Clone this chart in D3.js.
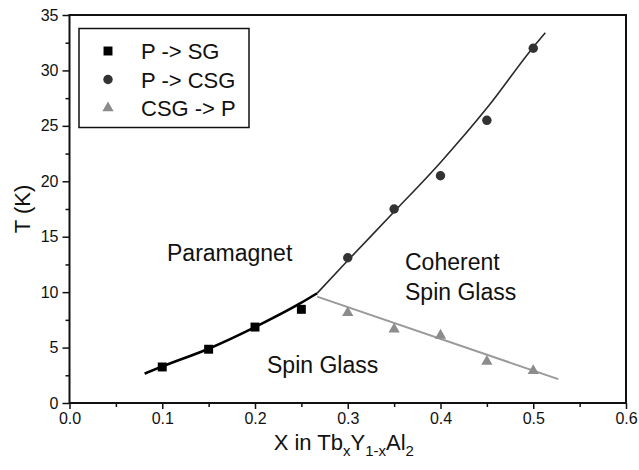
<!DOCTYPE html>
<html><head><meta charset="utf-8">
<script src="https://cdn.jsdelivr.net/npm/d3@7"></script>
<style>
html,body{margin:0;padding:0;background:#fff;}
text{font-family:"Liberation Sans",Arial,Helvetica,sans-serif;fill:#111;}
</style></head>
<body><svg id="c" width="639" height="470"></svg>
<script>
// ---- data ----
const xTicks = [0.0, 0.1, 0.2, 0.3, 0.4, 0.5, 0.6];
const yTicks = [0, 5, 10, 15, 20, 25, 30, 35];
const xTickLabels = ["0.0", "0.1", "0.2", "0.3", "0.4", "0.5", "0.6"];
const yTickLabels = ["0", "5", "10", "15", "20", "25", "30", "35"];

const sgX = [0.10, 0.15, 0.20, 0.25];
const sgT = [3.25, 4.85, 6.85, 8.45];
const csgX = [0.30, 0.35, 0.40, 0.45, 0.50];
const csgT = [13.1, 17.5, 20.5, 25.5, 32.0];
const csgPX = [0.30, 0.35, 0.40, 0.45, 0.50];
const csgPT = [8.15, 6.65, 6.1, 3.75, 2.9];

// guide curves
const sgFitX = [0.081, 0.10, 0.15, 0.20, 0.25, 0.267];
const sgFitT = [2.65, 3.3, 4.9, 6.85, 9.05, 9.9];
const csgFitX = [0.267, 0.30, 0.35, 0.40, 0.45, 0.50, 0.513];
const csgFitT = [9.9, 12.85, 17.25, 21.7, 26.6, 32.1, 33.4];
const pFitX = [0.267, 0.527];
const pFitT = [9.6, 2.15];

const legendLabels = ["P -> SG", "P -> CSG", "CSG -> P"];

// ---- drawing ----
const svg = d3.select("#c");
const x = d3.scaleLinear().domain([0, 0.6]).range([69.5, 626]);
const y = d3.scaleLinear().domain([0, 35]).range([403, 15]);

const zip = (a, b) => a.map((v, i) => [v, b[i]]);

const g = svg.append("g");
const xMinor = d3.range(0, 13).map(i => i * 0.05).filter((v, i) => i % 2 === 1);
const yMinor = d3.range(0, 15).map(i => i * 2.5).filter((v, i) => i % 2 === 1);

const xAxis = d3.axisBottom(x).tickValues(xTicks).tickSize(6).tickPadding(4)
  .tickFormat((d, i) => xTickLabels[i]);
const xAx = g.append("g").attr("transform", `translate(0,${y(0)})`).call(xAxis);
const yAxis = d3.axisLeft(y).tickValues(yTicks).tickSize(7).tickPadding(4)
  .tickFormat((d, i) => yTickLabels[i]);
const yAx = g.append("g").attr("transform", `translate(${x(0)},0)`).call(yAxis);
[xAx, yAx].forEach(a => {
  a.select(".domain").remove();
  a.selectAll("line").attr("stroke", "#111").attr("stroke-width", 1.5);
  a.selectAll("text").style("font-size", "16px").attr("fill", "#111");
});
g.append("g").attr("transform", `translate(0,${y(0)})`)
  .call(d3.axisBottom(x).tickValues(xMinor).tickSize(4).tickFormat(""))
  .call(s => { s.select(".domain").remove(); s.selectAll("line").attr("stroke", "#111").attr("stroke-width", 1.5); });
g.append("g").attr("transform", `translate(${x(0)},0)`)
  .call(d3.axisLeft(y).tickValues(yMinor).tickSize(4).tickFormat(""))
  .call(s => { s.select(".domain").remove(); s.selectAll("line").attr("stroke", "#111").attr("stroke-width", 1.5); });

// frame
svg.append("rect").attr("x", x(0)).attr("y", y(35))
  .attr("width", x(0.6) - x(0)).attr("height", y(0) - y(35))
  .attr("fill", "none").attr("stroke", "#111").attr("stroke-width", 2);

// axis titles
svg.append("text").attr("transform", `translate(30,${(y(0) + y(35)) / 2}) rotate(-90)`)
  .attr("text-anchor", "middle").style("font-size", "22px").text("T (K)");
const xt = svg.append("text").attr("x", (x(0) + x(0.6)) / 2 - 4).attr("y", 450)
  .attr("text-anchor", "middle").style("font-size", "22px");
xt.append("tspan").text("X in Tb");
xt.append("tspan").attr("dy", 6).style("font-size", "15px").text("x");
xt.append("tspan").attr("dy", -6).text("Y");
xt.append("tspan").attr("dy", 6).style("font-size", "15px").text("1-x");
xt.append("tspan").attr("dy", -6).text("Al");
xt.append("tspan").attr("dy", 6).style("font-size", "15px").text("2");

// curves
const line = d3.line().x(d => x(d[0])).y(d => y(d[1])).curve(d3.curveMonotoneX);
svg.append("path").datum(zip(pFitX, pFitT)).attr("d", line)
  .attr("fill", "none").attr("stroke", "#9a9a9a").attr("stroke-width", 2);
svg.append("path").datum(zip(csgFitX, csgFitT)).attr("d", line)
  .attr("fill", "none").attr("stroke", "#2a2a2a").attr("stroke-width", 1.6);
svg.append("path").datum(zip(sgFitX, sgFitT)).attr("d", line)
  .attr("fill", "none").attr("stroke", "#000").attr("stroke-width", 2.6);

// markers
const sq = d3.symbol().type(d3.symbolSquare).size(80);
const ci = d3.symbol().type(d3.symbolCircle).size(70);
const tr = d3.symbol().type(d3.symbolTriangle).size(55);
svg.append("g").selectAll("path").data(zip(sgX, sgT)).join("path")
  .attr("d", sq).attr("transform", d => `translate(${x(d[0])},${y(d[1])})`).attr("fill", "#000");
svg.append("g").selectAll("path").data(zip(csgX, csgT)).join("path")
  .attr("d", ci).attr("transform", d => `translate(${x(d[0])},${y(d[1])})`).attr("fill", "#333");
svg.append("g").selectAll("path").data(zip(csgPX, csgPT)).join("path")
  .attr("d", tr).attr("transform", d => `translate(${x(d[0])},${y(d[1])})`).attr("fill", "#8c8c8c");

// region labels
const lab = (tx, ty, t) => svg.append("text").attr("x", tx).attr("y", ty)
  .style("font-size", "23px").text(t);
lab(167, 261, "Paramagnet");
lab(405, 270, "Coherent");
lab(405, 300, "Spin Glass");
lab(267, 373, "Spin Glass");

// legend
svg.append("rect").attr("x", 79).attr("y", 28.5).attr("width", 170).attr("height", 99)
  .attr("fill", "#fff").attr("stroke", "#111").attr("stroke-width", 1.5);
const legSyms = [sq, ci, tr];
const legCols = ["#000", "#333", "#8c8c8c"];
legendLabels.forEach((t, i) => {
  const cy = 51 + i * 28.5;
  svg.append("path").attr("d", legSyms[i]).attr("transform", `translate(108,${cy})`).attr("fill", legCols[i]);
  svg.append("text").attr("x", 141).attr("y", cy + 8).style("font-size", "22px").text(t);
});
</script></body></html>
